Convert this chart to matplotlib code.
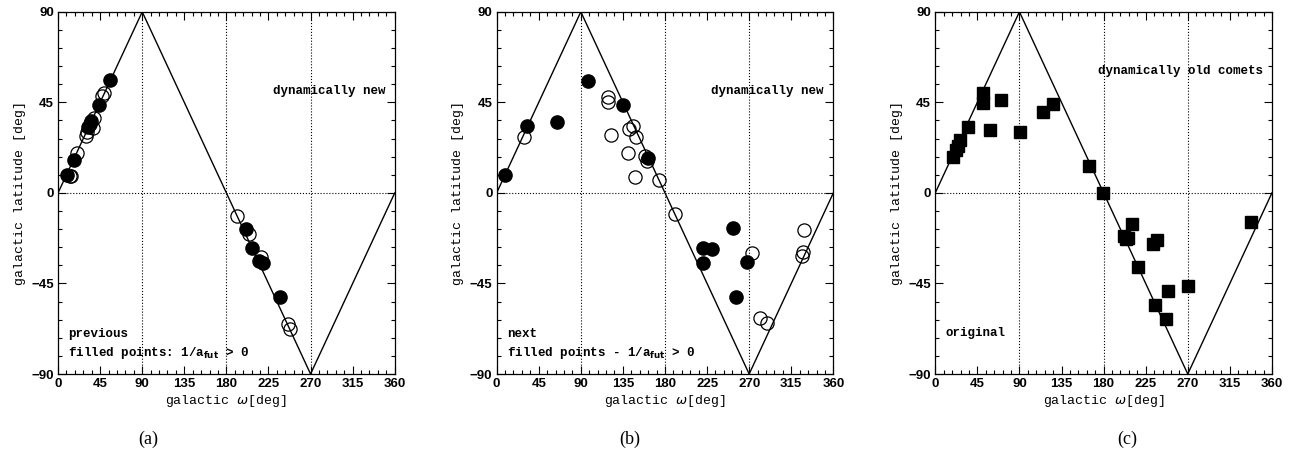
import matplotlib
matplotlib.use('Agg')
import matplotlib.pyplot as plt
import numpy as np

# zigzag: latitude of the galactic plane crossing
zig_w = [0, 90, 270, 360]
zig_b = [0, 90, -90, 0]

# (a) previous
prev_fill_w = [9.6, 16.8, 32.1, 34.0, 35.5, 43.8, 55.2, 201.0, 207.8, 214.6, 218.8, 237.7]
prev_fill_b = [9.1, 16.2, 32.8, 34.5, 35.5, 43.9, 56.3, -17.7, -27.6, -33.9, -34.8, -51.7]
prev_open_w = [12.5, 14.0, 20.3, 29.6, 31.0, 37.4, 38.5, 47.4, 48.8, 191.4, 204.2, 216.7, 245.9, 247.7]
prev_open_b = [8.6, 8.2, 20.0, 28.1, 30.3, 32.3, 37.4, 48.0, 49.7, -11.6, -20.2, -31.8, -64.9, -67.4]

# (b) next
next_fill_w = [8.9, 32.8, 64.2, 98.0, 135.4, 162.2, 220.3, 229.9, 221.0, 252.3, 267.3, 255.5]
next_fill_b = [8.8, 33.1, 35.3, 55.5, 43.9, 17.5, -27.6, -27.8, -34.8, -17.4, -34.3, -51.7]
next_open_w = [29.6, 119.4, 119.4, 121.9, 146.1, 141.5, 149.0, 140.8, 147.9, 158.6, 161.1,
               173.6, 190.7, 272.6, 281.6, 288.7, 328.6, 327.9, 326.1]
next_open_b = [27.8, 47.7, 45.2, 29.0, 33.3, 32.0, 27.8, 20.0, 7.9, 18.4, 15.9,
               6.6, -10.6, -29.8, -62.1, -64.6, -18.5, -29.3, -31.5]

# (c) original, dynamically old comets
orig_w = [18.9, 22.1, 24.2, 26.0, 34.6, 51.0, 51.0, 58.1, 70.2, 90.2, 114.8, 125.5, 164.7,
          178.9, 201.4, 206.0, 203.9, 210.3, 216.3, 232.7, 237.0, 235.2, 248.4, 246.7, 270.2, 337.5]
orig_b = [17.9, 21.2, 23.2, 26.2, 32.8, 49.7, 44.7, 31.5, 46.0, 30.3, 40.2, 44.2, 13.2,
          0.2, -21.5, -22.2, -23.0, -15.2, -36.8, -25.2, -23.5, -55.5, -48.8, -62.9, -46.2, -14.4]

ticks = [0, 45, 90, 135, 180, 225, 270, 315, 360]
yticks = [-90, -45, 0, 45, 90]
ytick_labels = ['\u221290', '\u221245', '0', '45', '90']

mono = 'Liberation Mono'


def setup(ax):
    ax.plot(zig_w, zig_b, color='black', lw=1.0, zorder=2)
    for x in [90, 180, 270]:
        ax.axvline(x, color='black', ls=':', lw=0.8, zorder=1)
    ax.axhline(0, color='black', ls=':', lw=0.8, zorder=1)
    ax.set_xlim(0, 360)
    ax.set_ylim(-90, 90)
    ax.set_xticks(ticks)
    ax.set_yticks(yticks)
    ax.set_yticklabels(ytick_labels)
    ax.set_xticks(np.arange(0, 361, 9), minor=True)
    ax.set_yticks(np.arange(-90, 91, 9), minor=True)
    ax.tick_params(which='both', direction='in', top=True, right=True, width=0.8)
    ax.tick_params(which='major', length=6, labelsize=9.5, pad=3)
    ax.tick_params(which='minor', length=3)
    for lab in ax.get_xticklabels() + ax.get_yticklabels():
        lab.set_fontweight('bold')
        lab.set_family('Liberation Sans')
    ax.set_xlabel('galactic $\\omega$[deg]', family=mono, fontsize=9.5, labelpad=2)
    ax.set_ylabel('galactic latitude [deg]', family=mono, fontsize=9.5, labelpad=4)
    for s in ax.spines.values():
        s.set_linewidth(0.9)


fig = plt.figure(figsize=(12.9, 4.55), dpi=100)
lefts = [0.045, 0.385, 0.725]
axes = [fig.add_axes([l, 0.178, 0.261, 0.796]) for l in lefts]

ax = axes[0]
setup(ax)
ax.plot(prev_open_w, prev_open_b, 'o', mfc='none', mec='black', ms=9.5, mew=0.9, zorder=3)
ax.plot(prev_fill_w, prev_fill_b, 'o', mfc='black', mec='black', ms=9.5, zorder=4)
ax.text(350, 50.5, 'dynamically new', ha='right', va='center', family=mono, fontsize=9, fontweight='bold')
ax.text(10.7, -70, 'previous', ha='left', va='center', family=mono, fontsize=9, fontweight='bold')
ax.text(10.7, -79.5, 'filled points: 1/a$_{\\mathbf{fut}}$ > 0', ha='left', va='center',
        family=mono, fontsize=9, fontweight='bold')

ax = axes[1]
setup(ax)
ax.plot(next_open_w, next_open_b, 'o', mfc='none', mec='black', ms=9.5, mew=0.9, zorder=3)
ax.plot(next_fill_w, next_fill_b, 'o', mfc='black', mec='black', ms=9.5, zorder=4)
ax.text(350, 50.5, 'dynamically new', ha='right', va='center', family=mono, fontsize=9, fontweight='bold')
ax.text(10.7, -70, 'next', ha='left', va='center', family=mono, fontsize=9, fontweight='bold')
ax.text(10.7, -79.5, 'filled points - 1/a$_{\\mathbf{fut}}$ > 0', ha='left', va='center',
        family=mono, fontsize=9, fontweight='bold')

ax = axes[2]
setup(ax)
ax.plot(orig_w, orig_b, 's', mfc='black', mec='black', ms=8, zorder=4)
ax.text(350, 60.4, 'dynamically old comets', ha='right', va='center', family=mono, fontsize=9, fontweight='bold')
ax.text(10.7, -69.5, 'original', ha='left', va='center', family=mono, fontsize=9, fontweight='bold')

for x, lab in zip([0.115, 0.488, 0.874], ['(a)', '(b)', '(c)']):
    fig.text(x, 0.035, lab, ha='center', va='center', family='Liberation Serif', fontsize=13)

fig.savefig('out.png', dpi=100)
